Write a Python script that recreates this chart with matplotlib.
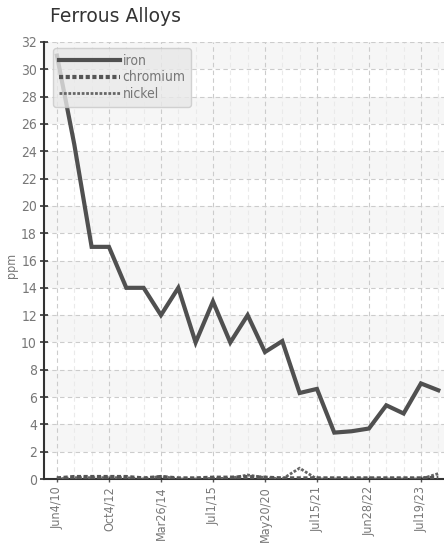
import matplotlib
matplotlib.use("Agg")
import matplotlib.pyplot as plt
from matplotlib import font_manager
from matplotlib.font_manager import FontProperties
from matplotlib.ticker import MultipleLocator

# values (one point per sample, evenly spaced)
iron = [31, 24.5, 17, 17, 14, 14, 12, 14, 10, 13, 10, 12, 9.3, 10.1,
        6.3, 6.6, 3.4, 3.5, 3.7, 5.4, 4.8, 7.0, 6.5]
chromium = [0.05, 0.15, 0.15, 0.15, 0.15, 0.05, 0.15, 0.05, 0.05, 0.1, 0.1, 0.15,
            0.1, 0.05, 0.05, 0.05, 0.05, 0.05, 0.05, 0.05, 0.05, 0.05, 0.1]
nickel = [0.0, 0.1, 0.1, 0.1, 0.1, 0.0, 0.2, 0.0, 0.0, 0.05, 0.05, 0.3,
          0.1, 0.0, 0.8, 0.0, 0.0, 0.0, 0.0, 0.0, 0.0, 0.0, 0.4]
tick_labels = ["Jun4/10", "Oct4/12", "Mar26/14", "Jul1/15",
               "May20/20", "Jul15/21", "Jun28/22", "Jul19/23"]
label_step = 3


def narrow_font(size):
    """Pick a condensed face if one is installed, else shrink a normal one."""
    fp = FontProperties(family="DejaVu Sans", stretch="condensed", size=size)
    path = font_manager.findfont(fp, fallback_to_default=True)
    if "Condensed" in path:
        return fp
    for fam in ("Liberation Sans Narrow", "Roboto Condensed", "Open Sans Condensed"):
        fp = FontProperties(family=fam, size=size)
        try:
            font_manager.findfont(fp, fallback_to_default=False)
            return fp
        except ValueError:
            pass
    return FontProperties(family="Roboto", stretch="condensed", size=size * 0.85)


def main():
    fig = plt.figure(figsize=(4.44, 5.45), dpi=100)
    ax = fig.add_axes([0.099, 0.121, 0.901, 0.802])

    x = list(range(len(iron)))

    # alternating light bands
    for lo in range(2, 32, 4):
        ax.axhspan(lo, lo + 2, color="#f6f6f6", zorder=0, lw=0)

    ax.plot(x, nickel, color="#666666", lw=2, ls=(0, (1, 0.6)), zorder=3, label="nickel")
    ax.plot(x, chromium, color="#555555", lw=3, ls=(0, (1, 0.6)), zorder=3, label="chromium")
    ax.plot(x, iron, color="#505050", lw=3, zorder=4, solid_joinstyle="miter", label="iron")

    ax.set_xlim(-0.75, 22.33)
    ax.set_ylim(0, 32)
    ax.yaxis.set_major_locator(MultipleLocator(2))
    ax.set_xticks(range(0, len(iron), label_step))
    ax.set_xticklabels(tick_labels, rotation=90, fontproperties=narrow_font(9),
                       color="#777777")
    ax.set_xticks(x, minor=True)
    for lab in ax.get_yticklabels():
        lab.set_fontproperties(narrow_font(10))
        lab.set_color("#777777")
    ax.tick_params(axis="y", direction="inout", length=6, width=1.2,
                   color="#333333", pad=2)
    ax.tick_params(axis="x", which="major", direction="inout", length=4, width=1,
                   color="#555555", pad=3)
    ax.tick_params(axis="x", which="minor", length=0)

    ax.grid(axis="y", ls=(0, (4, 3)), color="#cccccc", lw=0.8)
    ax.grid(axis="x", which="major", ls=(0, (4, 3)), color="#cccccc", lw=0.8)
    ax.grid(axis="x", which="minor", ls=(0, (4, 3)), color="#eaeaea", lw=0.8)
    ax.set_axisbelow(True)

    for side in ("top", "right"):
        ax.spines[side].set_visible(False)
    ax.spines["left"].set_color("#333333")
    ax.spines["left"].set_linewidth(1.5)
    ax.spines["bottom"].set_color("#333333")
    ax.spines["bottom"].set_linewidth(1.5)

    fig.text(0.027, 0.513, "ppm", fontproperties=narrow_font(9), color="#777777",
             rotation=90, ha="center", va="center")

    handles, labels = ax.get_legend_handles_labels()
    order = [2, 1, 0]
    leg = ax.legend([handles[i] for i in order], [labels[i] for i in order],
                    loc="upper left", bbox_to_anchor=(0.0225, 0.986),
                    borderaxespad=0, prop=narrow_font(10), labelcolor="#777777",
                    handlelength=4.4, handletextpad=0.2, labelspacing=0.2,
                    borderpad=0.4, fancybox=True, framealpha=0.8,
                    facecolor="#e8e8e8", edgecolor="#c8c8c8", shadow=False)
    leg.set_zorder(6)

    fig.text(0.113, 0.969, "Ferrous Alloys", fontsize=13.5, color="#333333",
             va="center", ha="left")

    fig.savefig("out.png", dpi=100)


if __name__ == "__main__":
    main()
